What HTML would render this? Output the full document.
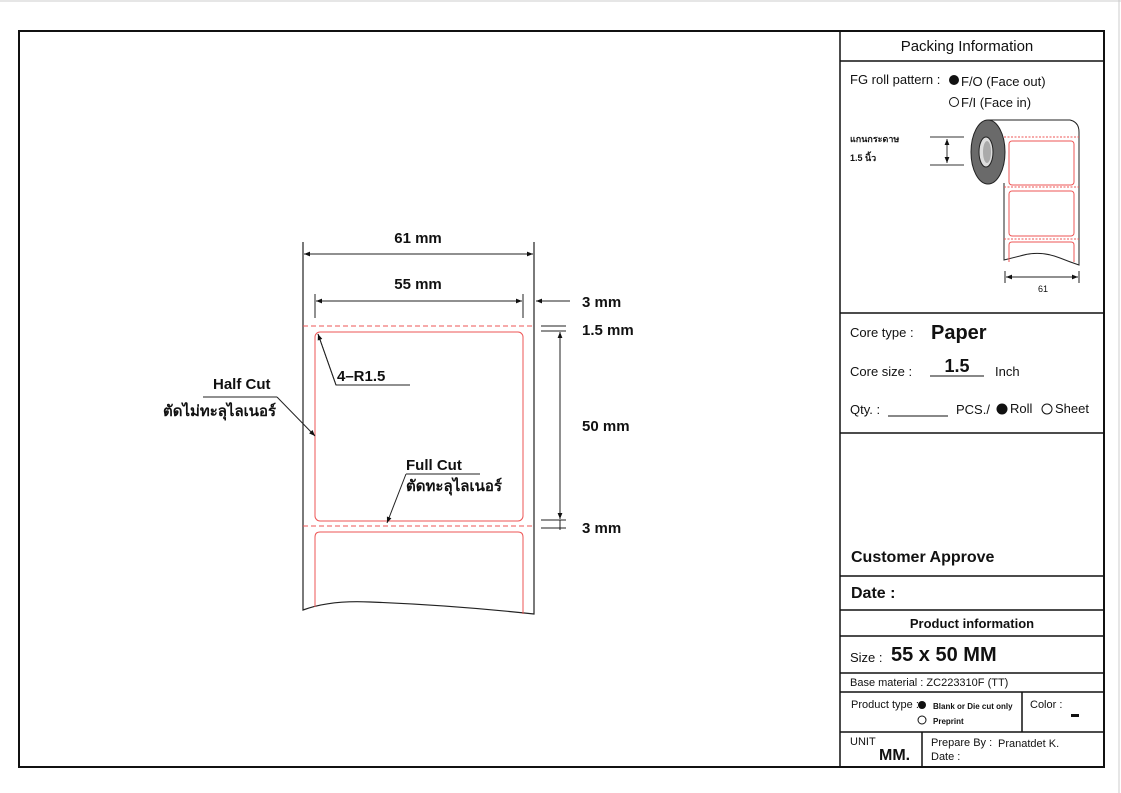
<!DOCTYPE html>
<html><head><meta charset="utf-8"><style>
html,body{margin:0;padding:0;background:#fff}
svg{display:block}
text{font-family:"Liberation Sans",sans-serif;fill:#111}
.b{font-weight:bold}
</style></head><body>
<svg width="1121" height="793" viewBox="0 0 1121 793" xmlns="http://www.w3.org/2000/svg">
<defs>
<marker id="a" viewBox="0 0 10 10" refX="10" refY="5" markerWidth="8" markerHeight="6" orient="auto-start-reverse" markerUnits="userSpaceOnUse"><path d="M0,1 L10,5 L0,9 z" fill="#111"/></marker>
</defs>
<line x1="0" y1="1" x2="1121" y2="1" stroke="#ccc"/>
<line x1="1119" y1="0" x2="1119" y2="793" stroke="#ccc"/>
<rect x="19" y="31" width="1085" height="736" fill="none" stroke="#111" stroke-width="2"/>
<line x1="840" y1="31" x2="840" y2="767" stroke="#111" stroke-width="1.5"/>
<g stroke="#111" stroke-width="1.5">
<line x1="840" y1="61" x2="1104" y2="61"/>
<line x1="840" y1="313" x2="1104" y2="313"/>
<line x1="840" y1="433" x2="1104" y2="433"/>
<line x1="840" y1="576" x2="1104" y2="576"/>
<line x1="840" y1="610" x2="1104" y2="610"/>
<line x1="840" y1="636" x2="1104" y2="636"/>
<line x1="840" y1="673" x2="1104" y2="673"/>
<line x1="840" y1="692" x2="1104" y2="692"/>
<line x1="840" y1="732" x2="1104" y2="732"/>
<line x1="1022" y1="692" x2="1022" y2="732"/>
<line x1="922" y1="732" x2="922" y2="767"/>
</g>
<text x="967" y="51" font-size="15" text-anchor="middle">Packing Information</text>
<text x="850" y="84" font-size="13">FG roll pattern :</text>
<circle cx="954" cy="80" r="5" fill="#111"/>
<text x="961" y="86" font-size="13">F/O (Face out)</text>
<circle cx="954" cy="102" r="4.5" fill="none" stroke="#111"/>
<text x="961" y="107" font-size="13">F/I (Face in)</text>
<text x="850" y="142" font-size="9" class="b">แกนกระดาษ</text>
<text x="850" y="161" font-size="9" class="b">1.5 นิ้ว</text>
<g stroke="#333" stroke-width="1">
<line x1="930" y1="137" x2="964" y2="137"/><line x1="930" y1="165" x2="964" y2="165"/>
<line x1="947" y1="139" x2="947" y2="163" marker-start="url(#a)" marker-end="url(#a)"/>
</g>
<path d="M988,120 L1070,120 Q1079,122 1079,132 L1079,265 Q1070,262 1060,258 Q1040,250 1020,256 L1004,260 L1004,183" fill="#fff" stroke="#222"/>
<g stroke="#e55" fill="none" stroke-width="1">
<line x1="1004" y1="137" x2="1079" y2="137" stroke-dasharray="2,1.5"/>
<line x1="1004" y1="187" x2="1079" y2="187" stroke-dasharray="2,1.5"/>
<line x1="1004" y1="239" x2="1079" y2="239" stroke-dasharray="2,1.5"/>
<rect x="1009" y="141" width="65" height="44" rx="3"/>
<rect x="1009" y="191" width="65" height="45" rx="3"/>
<path d="M1009,262 L1009,245 Q1009,242 1012,242 L1071,242 Q1074,242 1074,245 L1074,262"/>
</g>
<ellipse cx="988" cy="152" rx="17" ry="32" fill="#6a6a6a" stroke="#222"/>
<ellipse cx="986" cy="152" rx="7" ry="15" fill="#ddd" stroke="#222"/>
<ellipse cx="987" cy="152" rx="4" ry="11" fill="#aaa"/>
<g stroke="#222"><line x1="1005" y1="271" x2="1005" y2="283"/><line x1="1079" y1="271" x2="1079" y2="283"/>
<line x1="1006" y1="277" x2="1078" y2="277" marker-start="url(#a)" marker-end="url(#a)"/></g>
<text x="1043" y="292" font-size="9" text-anchor="middle">61</text>
<text x="850" y="337" font-size="13">Core type :</text>
<text x="931" y="339" font-size="20" class="b">Paper</text>
<text x="850" y="376" font-size="13">Core size :</text>
<text x="957" y="372" font-size="18" class="b" text-anchor="middle">1.5</text>
<line x1="930" y1="376" x2="984" y2="376" stroke="#111"/>
<text x="995" y="376" font-size="13">Inch</text>
<text x="850" y="414" font-size="13">Qty. :</text>
<line x1="888" y1="416" x2="948" y2="416" stroke="#111"/>
<text x="956" y="414" font-size="13">PCS./</text>
<circle cx="1002" cy="409" r="5.5" fill="#111"/>
<text x="1010" y="413" font-size="13">Roll</text>
<circle cx="1047" cy="409" r="5" fill="none" stroke="#111"/>
<text x="1055" y="413" font-size="13">Sheet</text>
<text x="851" y="562" font-size="16" class="b">Customer Approve</text>
<text x="851" y="598" font-size="16" class="b">Date :</text>
<text x="972" y="628" font-size="13" class="b" text-anchor="middle">Product information</text>
<text x="850" y="662" font-size="13">Size :</text>
<text x="891" y="661" font-size="20" class="b">55 x 50 MM</text>
<text x="850" y="686" font-size="11">Base material : ZC223310F (TT)</text>
<text x="851" y="708" font-size="11">Product type :</text>
<circle cx="922" cy="705" r="4" fill="#111"/>
<text x="933" y="709" font-size="8" class="b">Blank or Die cut only</text>
<circle cx="922" cy="720" r="4" fill="none" stroke="#111"/>
<text x="933" y="724" font-size="8" class="b">Preprint</text>
<text x="1030" y="708" font-size="11">Color :</text>
<rect x="1071" y="714" width="8" height="3" fill="#111"/>
<text x="850" y="745" font-size="11">UNIT</text>
<text x="879" y="760" font-size="16" class="b">MM.</text>
<text x="931" y="746" font-size="11">Prepare By :</text>
<text x="998" y="747" font-size="11">Pranatdet K.</text>
<text x="931" y="760" font-size="11">Date :</text>
<!-- main drawing -->
<path d="M303,242 L303,610 Q330,600 370,602 Q450,605 534,614 L534,242" fill="none" stroke="#222" stroke-width="1.2"/>
<g stroke="#e55" fill="none" stroke-width="1">
<line x1="303" y1="326" x2="534" y2="326" stroke-dasharray="5,3"/>
<line x1="303" y1="526" x2="534" y2="526" stroke-dasharray="5,3"/>
<rect x="315" y="332" width="208" height="189" rx="5"/>
<path d="M315,607 L315,537 Q315,532 320,532 L518,532 Q523,532 523,537 L523,614"/>
</g>
<g stroke="#222" stroke-width="1" fill="none">
<line x1="304" y1="254" x2="533" y2="254" marker-start="url(#a)" marker-end="url(#a)"/>
<line x1="315" y1="294" x2="315" y2="318"/><line x1="523" y1="294" x2="523" y2="318"/>
<line x1="316" y1="301" x2="522" y2="301" marker-start="url(#a)" marker-end="url(#a)"/>
<line x1="570" y1="301" x2="536" y2="301" marker-end="url(#a)"/>
<line x1="541" y1="326" x2="566" y2="326"/><line x1="541" y1="331" x2="566" y2="331"/>
<line x1="541" y1="520" x2="566" y2="520"/><line x1="541" y1="528" x2="566" y2="528"/>
<line x1="560" y1="332" x2="560" y2="519" marker-start="url(#a)" marker-end="url(#a)"/>
<line x1="560" y1="520" x2="560" y2="530"/>
<polyline points="410,385 336,385 318,334" /><line x1="336" y1="385" x2="318" y2="334" marker-end="url(#a)"/>
<polyline points="203,397 277,397"/><line x1="277" y1="397" x2="315" y2="436" marker-end="url(#a)"/>
<line x1="406" y1="474" x2="480" y2="474"/><line x1="406" y1="474" x2="387" y2="523" marker-end="url(#a)"/>
</g>
<text x="418" y="243" font-size="15" class="b" text-anchor="middle">61 mm</text>
<text x="418" y="289" font-size="15" class="b" text-anchor="middle">55 mm</text>
<text x="582" y="307" font-size="15" class="b">3 mm</text>
<text x="582" y="335" font-size="15" class="b">1.5 mm</text>
<text x="582" y="431" font-size="15" class="b">50 mm</text>
<text x="582" y="533" font-size="15" class="b">3 mm</text>
<text x="337" y="381" font-size="15" class="b">4–R1.5</text>
<text x="213" y="389" font-size="15" class="b">Half Cut</text>
<text x="163" y="416" font-size="15" class="b" textLength="113" lengthAdjust="spacingAndGlyphs">ตัดไม่ทะลุไลเนอร์</text>
<text x="406" y="470" font-size="15" class="b">Full Cut</text>
<text x="406" y="491" font-size="15" class="b" textLength="96" lengthAdjust="spacingAndGlyphs">ตัดทะลุไลเนอร์</text>
</svg>
</body></html>
